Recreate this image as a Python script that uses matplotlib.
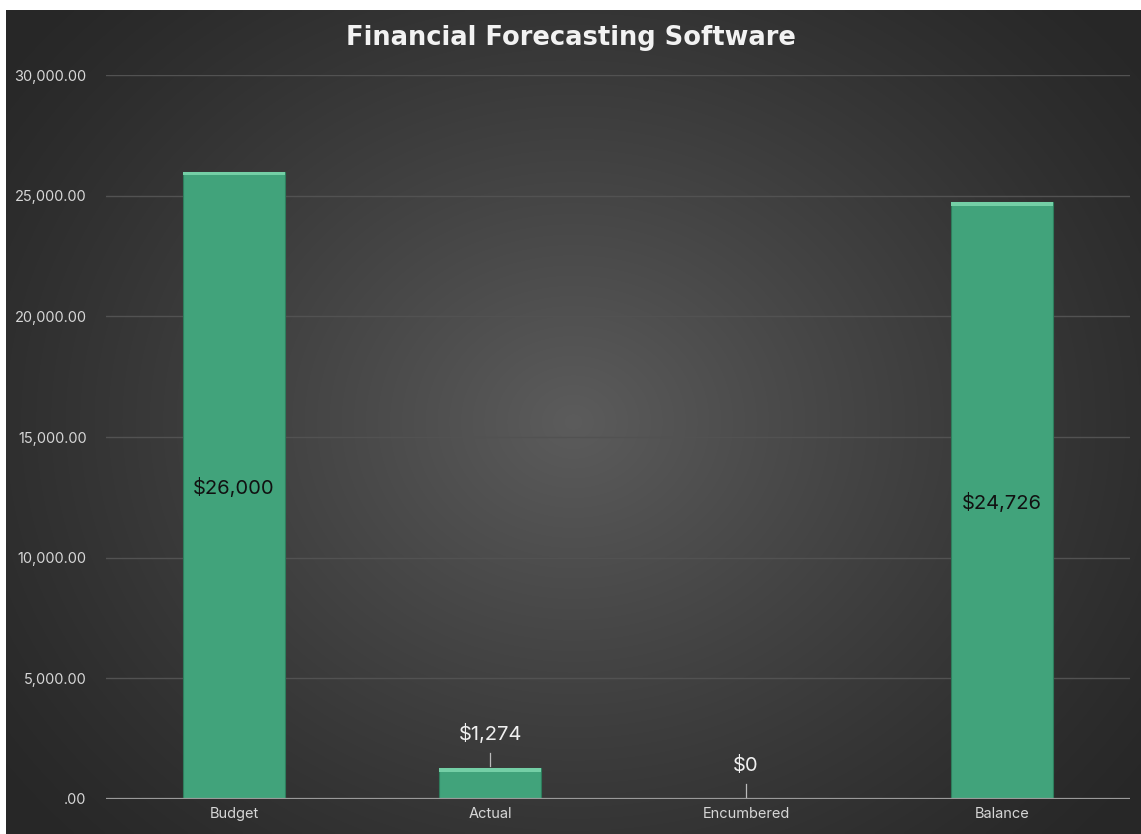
import numpy as np
import matplotlib.pyplot as plt
from matplotlib.ticker import FuncFormatter

categories = ['Budget', 'Actual', 'Encumbered', 'Balance']
values = [26000, 1274, 0, 24726]
labels = ['$26,000', '$1,274', '$0', '$24,726']
inside = [True, False, False, True]

plt.rcParams['font.family'] = ['Inter', 'DejaVu Sans']

fig = plt.figure(figsize=(11.41, 8.34), dpi=100, facecolor='white')

# dark radial-gradient background, offset from the top/left edge
bg = fig.add_axes([6 / 1141, 0, 1135 / 1141, 824 / 834])
yy, xx = np.mgrid[-1:1:300j, -1:1:400j]
r = np.sqrt(xx ** 2 + (yy * 0.85) ** 2)
grad = np.clip(1 - r / 1.25, 0, 1) ** 1.2
shade = 0.155 + 0.205 * grad
bg.imshow(np.dstack([shade, shade, shade]), aspect='auto',
          extent=[0, 1, 0, 1], interpolation='bilinear')
bg.set_axis_off()

ax = fig.add_axes([106 / 1141, 35 / 834, 1024 / 1141, 724 / 834])
ax.patch.set_alpha(0)
x = np.arange(len(categories))

ax.bar(x, values, width=0.4, color='#41a37b', edgecolor='#2e7d5c', linewidth=0.8, zorder=3)
# bevel highlight on the top of each bar
ax.bar(x, [160 if v > 0 else 0 for v in values], bottom=[v - 160 for v in values], width=0.4,
       color='#74cfa6', linewidth=0, zorder=4)

for xi, v, lab, ins in zip(x, values, labels, inside):
    if ins:
        ax.text(xi, v / 2 - 100, lab, ha='center', va='center', color='#111111', fontsize=14.5, zorder=5)
    else:
        ax.plot([xi, xi], [v + 80, v + 620], color='#bbbbbb', lw=0.9, zorder=5)
        ax.text(xi, v + 1400, lab, ha='center', va='center', color='#f0f0f0', fontsize=14.5, zorder=5)

ax.set_xlim(-0.5, 3.5)
ax.set_ylim(0, 30000)
ax.set_yticks(np.arange(0, 30001, 5000))
ax.yaxis.set_major_formatter(FuncFormatter(lambda v, p: '.00' if v == 0 else f'{v:,.2f}'))
ax.set_xticks(x)
ax.set_xticklabels(categories)
ax.grid(axis='y', color='#525252', lw=1, zorder=0)
ax.axhline(0, color='#9a9a9a', lw=1.6, zorder=6)
for s in ax.spines.values():
    s.set_visible(False)
ax.tick_params(length=0, colors='#d6d6d6', labelsize=10.5)
ax.tick_params(axis='y', pad=14)
ax.tick_params(axis='x', pad=6)

fig.text(0.5, 1 - 38 / 834, 'Financial Forecasting Software', ha='center', va='center',
         color='#f2f2f2', fontsize=18.5, fontweight='bold', family=['DejaVu Sans'])

fig.savefig('out.png', dpi=100, facecolor=fig.get_facecolor())
